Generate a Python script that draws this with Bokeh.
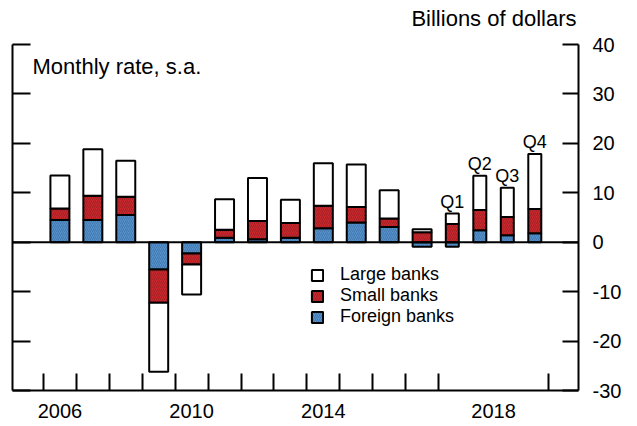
import numpy as np
from bokeh.plotting import figure
from bokeh.models import (ColumnDataSource, Range1d, LinearAxis, FixedTicker,
                          Span, Label, Legend, LegendItem)
from bokeh.embed import file_html
from bokeh.resources import INLINE

# ---------------- data ----------------
years = ["2006", "2007", "2008", "2009", "2010", "2011",
         "2012", "2013", "2014", "2015", "2016", "2017"]
foreign = [4.5, 4.5, 5.5, -5.5, -2.3, 0.9, 0.6, 0.9, 2.8, 4.0, 3.1, -0.9]
small = [2.3, 4.9, 3.7, -6.75, -2.2, 1.6, 3.7, 3.0, 4.6, 3.1, 1.7, 2.0]
large = [6.7, 9.4, 7.3, -13.95, -6.1, 6.2, 8.7, 4.7, 8.6, 8.6, 5.7, 0.6]

quarters = ["Q1", "Q2", "Q3", "Q4"]
foreign_q = [-0.9, 2.4, 1.4, 1.8]
small_q = [3.7, 4.1, 3.7, 4.9]
large_q = [2.1, 6.95, 5.9, 11.15]

year_labels = ["2006", "2010", "2014", "2018"]
y_ticks = [-30, -20, -10, 0, 10, 20, 30, 40]
y_tick_labels = ["-30", "-20", "-10", "0", "10", "20", "30", "40"]

# ---------------- layout rules ----------------
FONT = "Liberation Sans"
QW = 0.835          # width of one quarter slot, in year slots
n_y = len(years)
n_q = len(quarters)
x_year = np.arange(n_y) + 0.5
x_q = n_y + (np.arange(n_q) + 0.5) * QW
xs = np.concatenate([x_year, x_q])
widths = np.concatenate([np.full(n_y, 0.577), np.full(n_q, 0.395)])
x_start = -0.94
x_end = n_y + n_q * QW + 0.91

Y_LO, Y_HI = y_ticks[0], y_ticks[-1]
AXIS_PX = 346                      # pixel height of the -30..40 axis
HEAD_PX = 44                       # room above the axis for the unit note
y_top = Y_HI + HEAD_PX * (Y_HI - Y_LO) / AXIS_PX

series = {
    "foreign": np.array(foreign + foreign_q, dtype=float),
    "small": np.array(small + small_q, dtype=float),
    "large": np.array(large + large_q, dtype=float),
}
pos = np.zeros(len(xs))
neg = np.zeros(len(xs))
data = dict(x=xs, w=widths)
for name, v in series.items():
    data[name + "_bottom"] = np.where(v >= 0, pos, neg + v)
    data[name + "_top"] = np.where(v >= 0, pos + v, neg)
    pos = np.where(v >= 0, pos + v, pos)
    neg = np.where(v < 0, neg + v, neg)
src = ColumnDataSource(data)

# ---------------- figure ----------------
p = figure(frame_width=566, frame_height=AXIS_PX + HEAD_PX, output_backend="svg",
           toolbar_location=None,
           x_range=Range1d(x_start, x_end), y_range=Range1d(Y_LO, y_top),
           min_border_left=12, min_border_right=45, min_border_top=0, min_border_bottom=36)
p.title.visible = False
p.outline_line_color = None
p.xgrid.visible = False
p.ygrid.visible = False
p.background_fill_color = "white"
p.border_fill_color = "white"

styles = {
    "foreign": dict(fill_color="#5591cc", hatch_color="#2f5f90"),
    "small": dict(fill_color="#c9282d", hatch_color="#7d1518"),
    "large": dict(fill_color="white", hatch_color=None),
}
renderers = {}
for name in ["foreign", "small", "large"]:
    st = styles[name]
    kw = dict(x="x", width="w", top=name + "_top", bottom=name + "_bottom", source=src,
              fill_color=st["fill_color"], line_color="black", line_width=2)
    if st["hatch_color"]:
        kw.update(hatch_pattern="/", hatch_color=st["hatch_color"], hatch_scale=4,
                  hatch_weight=0.6, hatch_alpha=0.8)
    renderers[name] = p.vbar(**kw)

p.add_layout(Span(location=0, dimension="width", line_color="black", line_width=2))

# quarter labels above the 2018 bars
for xq, yq, tq in zip(x_q, pos[n_y:], quarters):
    p.add_layout(Label(x=float(xq), y=float(yq), text=tq, text_align="center",
                       text_baseline="bottom", y_offset=2, text_font=FONT,
                       text_font_size="18px", text_color="black"))

# x axis
xa = p.xaxis[0]
label_pos = [float(x_year[0]), float(x_year[4]), float(x_year[8]), float(n_y + n_q * QW / 2)]
minor = [float(i) for i in range(n_y + 1)] + [float(n_y + n_q * QW)]
xa.ticker = FixedTicker(ticks=label_pos, minor_ticks=minor)
xa.major_label_overrides = {lp: lab for lp, lab in zip(label_pos, year_labels)}
xa.major_tick_in = 0
xa.major_tick_out = 0
xa.minor_tick_in = 17
xa.minor_tick_out = 0
xa.minor_tick_line_width = 2
xa.minor_tick_line_color = "black"
xa.axis_line_width = 2
xa.axis_line_color = "black"
xa.major_label_text_font = FONT
xa.major_label_text_font_size = "20px"
xa.major_label_text_color = "black"
xa.major_label_standoff = 13

# left y axis (ticks only)
ya = p.yaxis[0]
ya.ticker = FixedTicker(ticks=y_ticks)
ya.bounds = (Y_LO, Y_HI)
ya.major_tick_in = 18
ya.major_tick_out = 0
ya.major_tick_line_width = 2
ya.minor_tick_line_color = None
ya.axis_line_width = 2
ya.major_label_overrides = {t: "" for t in y_ticks}
ya.major_label_standoff = 0

# right y axis
ra = LinearAxis(ticker=FixedTicker(ticks=y_ticks), bounds=(Y_LO, Y_HI))
ra.major_label_overrides = {t: lab for t, lab in zip(y_ticks, y_tick_labels)}
ra.major_tick_in = 16
ra.major_tick_out = 0
ra.major_tick_line_width = 2
ra.minor_tick_line_color = None
ra.axis_line_width = 2
ra.major_label_text_font = FONT
ra.major_label_text_font_size = "20px"
ra.major_label_text_color = "black"
ra.major_label_text_align = "center"
ra.major_label_standoff = 14
p.add_layout(ra, "right")

# unit note above the right axis
p.add_layout(Label(x=x_end, y=Y_HI, x_offset=-2, y_offset=14, text="Billions of dollars",
                   text_font=FONT, text_font_size="22px", text_baseline="bottom",
                   text_align="right", text_color="black"))

p.add_layout(Label(x=x_start, y=Y_HI, x_offset=20, y_offset=-9, text="Monthly rate, s.a.",
                   text_font=FONT, text_font_size="22px", text_baseline="top",
                   text_color="black"))

legend = Legend(items=[LegendItem(label="Large banks", renderers=[renderers["large"]]),
                       LegendItem(label="Small banks", renderers=[renderers["small"]]),
                       LegendItem(label="Foreign banks", renderers=[renderers["foreign"]])],
                location=(298, 63), glyph_width=14, glyph_height=14, spacing=0,
                padding=0, margin=0, label_standoff=16, border_line_color=None,
                background_fill_alpha=0, label_text_font=FONT, label_text_color="black",
                label_text_font_size="18px", label_height=21)
p.add_layout(legend)

open("out.html", "w").write(file_html(p, INLINE))
